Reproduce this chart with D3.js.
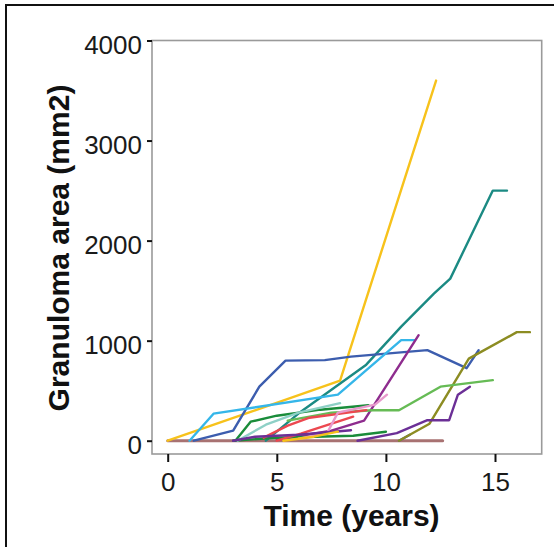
<!DOCTYPE html>
<html>
<head>
<meta charset="utf-8">
<script src="https://cdnjs.cloudflare.com/ajax/libs/d3/7.8.5/d3.min.js"></script>
<style>
  html, body { margin: 0; padding: 0; background: #fff; }
  svg { display: block; }
</style>
</head>
<body>
<svg id="chart" width="554" height="547"></svg>
<script>
// ---- Data (time in years, area in mm2) ----
const xTicks = [0, 5, 10, 15];
const yTicks = [0, 1000, 2000, 3000, 4000];
const xTitle = "Time (years)";
const yTitle = "Granuloma area (mm2)";

const seriesNames = ["brown", "gold", "teal", "blue", "blue2", "lightblue", "magenta", "olive",
  "lightgreen", "darkgreen", "darkgreen2", "red", "red2", "pink", "aqua", "violet", "violet2", "gold2"];
const seriesColors = ["#a87272", "#f7c21b", "#1b8a83", "#3c5dae", "#3c5dae", "#35b6e9", "#8e2c8e", "#8c8c22",
  "#66bb55", "#1a8c3a", "#1a8c3a", "#ec4850", "#ec4850", "#e899cc", "#8ed0c6", "#6b2f96", "#6b2f96", "#f7c21b"];

const brown      = [[0, 0], [12.6, 0]];
const gold       = [[0, 0], [7.9, 600], [12.3, 3600]];
const teal       = [[4.5, 0], [6.1, 290], [9.1, 760], [10.7, 1140], [12.2, 1470], [12.95, 1620], [14.9, 2500], [15.55, 2500]];
const blue       = [[1.2, 0], [3.0, 100], [4.2, 540], [5.4, 800], [7.2, 805], [8.4, 840], [11.9, 905], [13.7, 725], [14.25, 905]];
const blue2      = [[10.6, 0], [11.1, 60]];
const lightblue  = [[1.0, 0], [2.1, 270], [7.8, 460], [10.7, 1005], [11.3, 1005]];
const magenta    = [[5.0, 10], [7.5, 100], [9.0, 200], [11.5, 1055]];
const olive      = [[10.6, 0], [12.0, 170], [13.8, 820], [16.0, 1085], [16.6, 1085]];
const lightgreen = [[5.5, 200], [7.5, 280], [9.4, 305], [10.6, 305], [12.5, 540], [14.9, 605]];
const darkgreen  = [[3.1, 0], [3.8, 190], [5.0, 250], [7.0, 310], [9.2, 355]];
const darkgreen2 = [[3.0, 0], [5.0, 30], [8.5, 50], [10.0, 90]];
const red        = [[4.4, 30], [5.5, 150], [6.5, 230], [9.1, 305]];
const red2       = [[5.0, 0], [6.1, 70], [8.5, 240]];
const pink       = [[6.0, 20], [7.3, 75], [7.8, 280], [9.5, 360], [10.05, 460]];
const aqua       = [[3.2, 0], [4.5, 160], [6.0, 280], [7.9, 375]];
const violet     = [[8.7, 0], [10.5, 75], [11.9, 205], [12.9, 205], [13.3, 460], [13.85, 540]];
const violet2    = [[3.0, 0], [4.0, 40], [6.0, 60], [8.4, 105]];
const gold2      = [[5.3, 0], [6.7, 40], [7.8, 90]];

const seriesData = [brown, gold, teal, blue, blue2, lightblue, magenta, olive,
  lightgreen, darkgreen, darkgreen2, red, red2, pink, aqua, violet, violet2, gold2];

// ---- Layout ----
const svg = d3.select("#chart");
const box = { left: 152, right: 541.7, top: 40.5, bottom: 454 };

const x = d3.scaleLinear().domain([0, 15]).range([167.7, 495]);
const y = d3.scaleLinear().domain([0, 4000]).range([440.7, 40.5]);

// outer frame (only left and top edges visible)
svg.append("path")
  .attr("d", "M6,547 L6,5 L554,5")
  .attr("fill", "none").attr("stroke", "#111").attr("stroke-width", 2);

// plot box
svg.append("rect")
  .attr("x", box.left).attr("y", box.top)
  .attr("width", box.right - box.left).attr("height", box.bottom - box.top)
  .attr("fill", "#fff").attr("stroke", "#9a9a9a").attr("stroke-width", 1.6);

// lines
const line = d3.line().x(d => x(d[0])).y(d => y(d[1]));
const g = svg.append("g");
seriesData.forEach((s, i) => {
  g.append("path")
    .datum(s)
    .attr("d", line)
    .attr("fill", "none")
    .attr("stroke", seriesColors[i])
    .attr("stroke-width", i === 0 ? 3 : 2.4)
    .attr("stroke-linejoin", "round")
    .attr("stroke-linecap", "round");
});

// y axis
const yAxis = svg.append("g")
  .attr("transform", `translate(${box.left},0)`)
  .call(d3.axisLeft(y).tickValues(yTicks).tickFormat(d3.format("d")).tickSize(5).tickPadding(5));
yAxis.select(".domain").remove();
yAxis.selectAll(".tick line").attr("stroke", "#111").attr("stroke-width", 2);
yAxis.selectAll(".tick text")
  .attr("dy", "12.5px")
  .attr("fill", "#1a1a1a")
  .style("font-family", "'Liberation Sans', Arial, sans-serif")
  .style("font-size", "26px");

// x axis
const xAxis = svg.append("g")
  .attr("transform", `translate(0,${box.bottom})`)
  .call(d3.axisBottom(x).tickValues(xTicks).tickFormat(d3.format("d")).tickSize(8).tickPadding(10));
xAxis.select(".domain").remove();
xAxis.selectAll(".tick line").attr("stroke", "#111").attr("stroke-width", 2);
xAxis.selectAll(".tick text")
  .attr("y", 36.5).attr("dy", 0)
  .attr("fill", "#1a1a1a")
  .style("font-family", "'Liberation Sans', Arial, sans-serif")
  .style("font-size", "26px");

// titles
svg.append("text")
  .attr("x", 351.5).attr("y", 526)
  .attr("text-anchor", "middle")
  .attr("fill", "#111")
  .style("font-family", "'Liberation Sans', Arial, sans-serif")
  .style("font-weight", "bold")
  .style("font-size", "30px")
  .text(xTitle);

svg.append("text")
  .attr("transform", "translate(69,248) rotate(-90)")
  .attr("text-anchor", "middle")
  .attr("fill", "#111")
  .style("font-family", "'Liberation Sans', Arial, sans-serif")
  .style("font-weight", "bold")
  .style("font-size", "30px")
  .text(yTitle);
</script>
</body>
</html>
